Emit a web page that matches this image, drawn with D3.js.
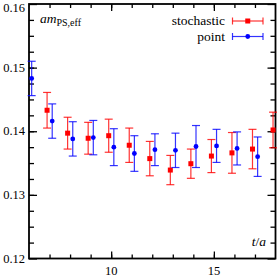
<!DOCTYPE html>
<html>
<head>
<meta charset="utf-8">
<script src="https://cdn.jsdelivr.net/npm/d3@7"></script>
<style>
  body { margin: 0; background: #fff; }
  svg { display: block; }
  text { font-family: "Liberation Serif", "DejaVu Serif", serif; fill: #000; }
</style>
</head>
<body>
<svg id="chart"></svg>
<script>
// effective mass, stochastic vs point sources
const stochT = [7, 8, 9, 10, 11, 12, 13, 14, 15, 16, 17, 18];
const stochMean = [0.1433, 0.1397, 0.1389, 0.1393, 0.1378, 0.1357, 0.1339, 0.1349, 0.1361, 0.1366, 0.1372, 0.1402];
const stochErr = [0.0028, 0.0025, 0.0025, 0.0026, 0.0027, 0.0027, 0.0023, 0.0023, 0.0026, 0.0032, 0.0031, 0.0028];

const pointT = [6, 7, 8, 9, 10, 11, 12, 13, 14, 15, 16, 17];
const pointMean = [0.1483, 0.1416, 0.1388, 0.1390, 0.1375, 0.1365, 0.1371, 0.1370, 0.1376, 0.1377, 0.1373, 0.1360];
const pointErr = [0.0027, 0.0027, 0.0027, 0.0027, 0.0029, 0.0028, 0.0025, 0.0027, 0.0033, 0.0026, 0.0026, 0.0031];

const xTickLabels = [10, 15];
const yTickLabels = [0.12, 0.13, 0.14, 0.15, 0.16];

const width = 278;
const height = 277;

const margin = { top: 4, bottom: 18.5, left: 29, right: 2.5 };
const plotWidth = width - margin.left - margin.right;
const plotHeight = height - margin.top - margin.bottom;

const svg = d3.select("#chart").attr("width", width).attr("height", height);

const xScale = d3.scaleLinear().domain([6, 18]).range([margin.left, margin.left + plotWidth]);
const yScale = d3.scaleLinear().domain([0.12, 0.16]).range([margin.top + plotHeight, margin.top]);

const series = [
  { name: "stochastic", color: "#ff0000", shape: "square", shift: -0.12,
    rows: stochT.map((t, i) => ({ t: t, v: stochMean[i], e: stochErr[i] })) },
  { name: "point", color: "#0000ff", shape: "circle", shift: 0.13,
    rows: pointT.map((t, i) => ({ t: t, v: pointMean[i], e: pointErr[i] })) }
];

drawAxis();
series.forEach(drawSeries);
drawLegend();
drawTitles();

function drawAxis() {
  let xMinor = d3.range(7, 18);
  let yMinor = d3.range(0, 17).map(i => 0.12 + i * 0.0025).filter(v => v > 0.1201 && v < 0.1599);

  // bottom ticks, pointing inward
  svg.append("g").attr("transform", translate(0, yScale(0.12)))
    .call(d3.axisTop(xScale).tickValues(xMinor).tickSize(4).tickFormat(""));
  svg.append("g").attr("transform", translate(0, yScale(0.12)))
    .call(d3.axisTop(xScale).tickValues(xTickLabels).tickSize(7).tickFormat(""));

  // top ticks, pointing inward
  svg.append("g").attr("transform", translate(0, yScale(0.16)))
    .call(d3.axisBottom(xScale).tickValues(xMinor).tickSize(4).tickFormat(""));
  svg.append("g").attr("transform", translate(0, yScale(0.16)))
    .call(d3.axisBottom(xScale).tickValues(xTickLabels).tickSize(7).tickFormat(""));

  // left ticks
  svg.append("g").attr("transform", translate(xScale(6), 0))
    .call(d3.axisRight(yScale).tickValues(yMinor).tickSize(5).tickFormat(""));
  svg.append("g").attr("transform", translate(xScale(6), 0))
    .call(d3.axisRight(yScale).tickValues(yTickLabels).tickSize(8).tickFormat(""));

  // right ticks
  svg.append("g").attr("transform", translate(xScale(18), 0))
    .call(d3.axisLeft(yScale).tickValues(yMinor).tickSize(5).tickFormat(""));
  svg.append("g").attr("transform", translate(xScale(18), 0))
    .call(d3.axisLeft(yScale).tickValues(yTickLabels).tickSize(8).tickFormat(""));

  svg.selectAll(".domain").remove();
  svg.selectAll(".tick line").attr("stroke", "#000").attr("stroke-width", 1.3);

  // frame
  svg.append("rect")
    .attr("x", xScale(6)).attr("y", yScale(0.16))
    .attr("width", xScale(18) - xScale(6))
    .attr("height", yScale(0.12) - yScale(0.16))
    .attr("fill", "none").attr("stroke", "#000").attr("stroke-width", 1.8);

  // tick labels (top one nudged so it stays inside the picture)
  svg.append("g").selectAll("text")
    .data(yTickLabels).enter().append("text")
    .attr("x", xScale(6) - 4)
    .attr("y", d => Math.max(yScale(d), 7.5))
    .attr("dy", "0.33em")
    .attr("text-anchor", "end")
    .attr("font-size", 12.5)
    .text(d => d3.format(".2f")(d));

  svg.append("g").selectAll("text")
    .data(xTickLabels).enter().append("text")
    .attr("x", d => xScale(d))
    .attr("y", yScale(0.12) + 16)
    .attr("text-anchor", "middle")
    .attr("font-size", 12.5)
    .text(d => d);
}

function drawSeries(s) {
  let g = svg.append("g").attr("class", "series");
  let cap = 4;

  let bars = g.selectAll("g.bar").data(s.rows).enter().append("g")
    .attr("stroke", s.color).attr("stroke-width", 1.2).attr("stroke-opacity", 0.8);

  bars.append("line")
    .attr("x1", d => xScale(d.t + s.shift)).attr("x2", d => xScale(d.t + s.shift))
    .attr("y1", d => yScale(d.v - d.e)).attr("y2", d => yScale(d.v + d.e));
  bars.append("line")
    .attr("x1", d => xScale(d.t + s.shift) - cap).attr("x2", d => xScale(d.t + s.shift) + cap)
    .attr("y1", d => yScale(d.v + d.e)).attr("y2", d => yScale(d.v + d.e));
  bars.append("line")
    .attr("x1", d => xScale(d.t + s.shift) - cap).attr("x2", d => xScale(d.t + s.shift) + cap)
    .attr("y1", d => yScale(d.v - d.e)).attr("y2", d => yScale(d.v - d.e));

  drawMarker(g.selectAll("x").data(s.rows).enter(), s,
    d => xScale(d.t + s.shift), d => yScale(d.v));
}

function drawMarker(sel, s, fx, fy) {
  if (s.shape == "square") {
    sel.append("rect")
      .attr("x", d => fx(d) - 2.5).attr("y", d => fy(d) - 2.5)
      .attr("width", 5).attr("height", 5)
      .attr("fill", s.color);
  } else {
    sel.append("circle")
      .attr("cx", fx).attr("cy", fy).attr("r", 2.4)
      .attr("fill", s.color);
  }
}

function drawLegend() {
  let x0 = 232.5, x1 = 263;
  series.forEach((s, i) => {
    let y = 21 + i * 15.5;
    let g = svg.append("g").attr("class", "legend");
    g.append("text")
      .attr("x", 225).attr("y", y).attr("dy", "0.33em")
      .attr("text-anchor", "end").attr("font-size", 13.5)
      .text(s.name);
    let lines = g.append("g").attr("stroke", s.color).attr("stroke-width", 1.2).attr("stroke-opacity", 0.8);
    lines.append("line").attr("x1", x0).attr("x2", x1).attr("y1", y).attr("y2", y);
    lines.append("line").attr("x1", x0).attr("x2", x0).attr("y1", y - 3.5).attr("y2", y + 3.5);
    lines.append("line").attr("x1", x1).attr("x2", x1).attr("y1", y - 3.5).attr("y2", y + 3.5);
    drawMarker(g.selectAll("x").data([0]).enter(), s, () => (x0 + x1) / 2, () => y);
  });
}

function drawTitles() {
  let label = svg.append("text").attr("x", 40).attr("y", 23).attr("font-size", 13.5);
  label.append("tspan").attr("font-style", "italic").text("am");
  label.append("tspan").attr("font-size", 10).attr("dy", 3).text("PS,eff");

  let tLabel = svg.append("text").attr("x", 266).attr("y", 246)
    .attr("text-anchor", "end").attr("font-size", 13.5);
  tLabel.append("tspan").attr("font-style", "italic").text("t");
  tLabel.append("tspan").text("/");
  tLabel.append("tspan").attr("font-style", "italic").text("a");
}

function translate(x, y) {
  return "translate(" + String(x) + "," + String(y) + ")";
}
</script>
</body>
</html>
